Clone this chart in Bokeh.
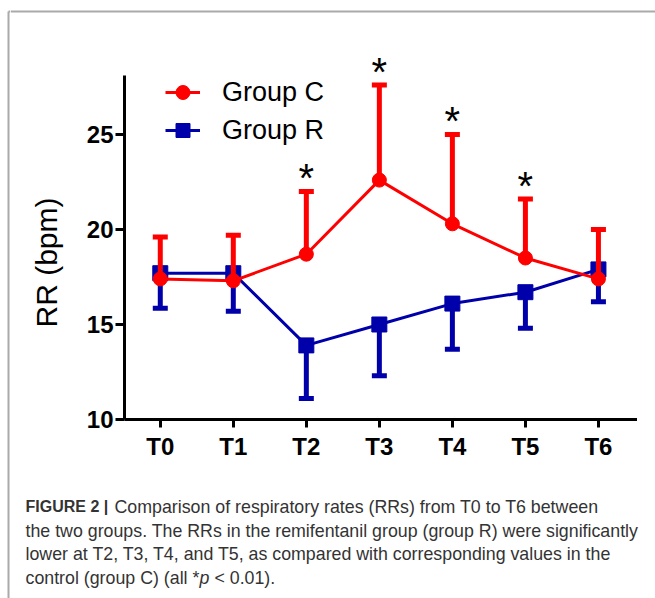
import math
from bokeh.plotting import figure
from bokeh.layouts import column, row
from bokeh.models import (Range1d, FixedTicker, ColumnDataSource, Legend, LegendItem, Title)
from bokeh.core.properties import value
from bokeh.embed import file_html
from bokeh.resources import INLINE

# ---- data ----
times = ["T0", "T1", "T2", "T3", "T4", "T5", "T6"]
group_c_mean = [17.4, 17.3, 18.7, 22.6, 20.3, 18.5, 17.4]
group_c_upper = [19.6, 19.7, 22.0, 27.6, 25.0, 21.6, 20.0]
group_r_mean = [17.7, 17.7, 13.9, 15.0, 16.1, 16.7, 17.9]
group_r_lower = [15.85, 15.7, 11.1, 12.3, 13.7, 14.8, 16.2]
significance = ["", "", "*", "*", "*", "*", ""]
y_ticks = [10, 15, 20, 25]
caption_lead = "FIGURE 2 |"
caption_lines = [
    "Comparison of respiratory rates (RRs) from T0 to T6 between",
    "the two groups. The RRs in the remifentanil group (group R) were significantly",
    "lower at T2, T3, T4, and T5, as compared with corresponding values in the",
    "control (group C) (all *",
]
caption_p = "p"
caption_tail = "< 0.01)."

RED = "#ff0000"
BLUE = "#0000aa"
FONT = "Liberation Sans"
FRAME_GRAY = "#aaaaaa"


def blank(w, h, x0=0, y0=0, fill="white"):
    f = figure(width=w, height=h, output_backend="svg", toolbar_location=None,
               x_range=Range1d(x0, x0 + w), y_range=Range1d(y0 + h, y0),
               x_axis_type=None, y_axis_type=None, min_border=0)
    f.min_border_left = f.min_border_right = f.min_border_top = f.min_border_bottom = 0
    f.outline_line_color = None
    f.grid.visible = False
    f.background_fill_color = fill
    f.border_fill_color = fill
    return f


# ---- decorative strips carrying the article frame lines (page coordinates) ----
left = blank(10, 598)
left.segment(x0=[8, 8], y0=[11, 11], x1=[8, 10], y1=[598, 11], line_color=FRAME_GRAY, line_width=2)
top = blank(645, 40, x0=10)
top.segment(x0=[10], y0=[11], x1=[655], y1=[11], line_color=FRAME_GRAY, line_width=2)
right = blank(18, 422)

# ---- main chart ----
idx = list(range(len(times)))
src_c = ColumnDataSource(dict(x=idx, mean=group_c_mean, upper=group_c_upper, sig=significance))
src_r = ColumnDataSource(dict(x=idx, mean=group_r_mean, lower=group_r_lower))

p = figure(width=627, height=422, output_backend="svg", toolbar_location=None,
           x_range=Range1d(-0.49, 6.535), y_range=Range1d(10, 29.947),
           min_border_left=112, min_border_right=0, min_border_top=0, min_border_bottom=43)
p.outline_line_color = None
p.xgrid.visible = False
p.ygrid.visible = False
p.background_fill_color = "white"
p.border_fill_color = "white"

# group R (blue)
p.segment(x0="x", y0="mean", x1="x", y1="lower", source=src_r, line_color=BLUE, line_width=5)
p.scatter(x="x", y="lower", source=src_r, marker="dash", size=15, line_color=BLUE, line_width=5)
r_line = p.line(x="x", y="mean", source=src_r, line_color=BLUE, line_width=3)
r_pts = p.scatter(x="x", y="mean", source=src_r, marker="square", size=15,
                  fill_color=BLUE, line_color=BLUE)

# group C (red)
p.segment(x0="x", y0="mean", x1="x", y1="upper", source=src_c, line_color=RED, line_width=5)
p.scatter(x="x", y="upper", source=src_c, marker="dash", size=15, line_color=RED, line_width=5)
c_line = p.line(x="x", y="mean", source=src_c, line_color=RED, line_width=3)
c_pts = p.scatter(x="x", y="mean", source=src_c, marker="circle", size=14,
                  fill_color=RED, line_color=RED)

# significance stars
p.text(x="x", y="upper", text="sig", source=src_c, text_align="center",
       text_baseline="alphabetic", y_offset=-13, text_font=value(FONT),
       text_font_size="40px", text_color="black")

# axes
for ax in (p.xaxis[0], p.yaxis[0]):
    ax.axis_line_width = 3
    ax.axis_line_color = "black"
    ax.major_tick_line_width = 3
    ax.major_tick_line_color = "black"
    ax.major_tick_in = 0
    ax.minor_tick_line_color = None
    ax.major_label_text_font = FONT
    ax.major_label_text_font_style = "bold"
    ax.major_label_text_font_size = "24px"
    ax.major_label_text_color = "black"

p.xaxis.ticker = FixedTicker(ticks=idx)
p.xaxis.major_label_overrides = {i: t for i, t in enumerate(times)}
p.xaxis.major_tick_out = 8
p.xaxis.major_label_standoff = 5

p.yaxis.ticker = FixedTicker(ticks=y_ticks)
p.yaxis.bounds = (10, 28.1)
p.yaxis.major_tick_out = 9
p.yaxis.major_label_standoff = 2

# y axis title
p.add_layout(Title(text="RR (bpm)", align="left", offset=92, standoff=38, vertical_align="top",
                   text_font=FONT, text_font_style="normal", text_font_size="30px",
                   text_color="black"), "left")

# legend
legend = Legend(items=[LegendItem(label="Group C", renderers=[c_line, c_pts]),
                       LegendItem(label="Group R", renderers=[r_line, r_pts])],
                location=(41, 270), glyph_width=35, glyph_height=38, spacing=0,
                padding=0, margin=0, label_standoff=22, border_line_color=None,
                background_fill_alpha=0, label_text_font=FONT,
                label_text_font_size="27px", label_text_color="black",
                label_text_baseline="middle")
p.add_layout(legend, "center")

# ---- caption ----
cap = blank(645, 136, x0=10, y0=462)
cap.segment(x0=[8], y0=[462], x1=[8], y1=[598], line_color=FRAME_GRAY, line_width=2)
CAP = "#333333"
SZ = 17.8
cap_kw = dict(text_color=CAP, text_baseline="middle", text_align="left", text_font=value(FONT))
cap.text(x=[25], y=[506], text=[caption_lead], text_font_style="bold",
         text_font_size="16px", **cap_kw)
cap.text(x=[114, 25, 25, 25], y=[506, 530, 553, 577], text=caption_lines,
         text_font_size=f"{SZ}px", **cap_kw)
cap.text(x=[25 + 9.78 * SZ], y=[577], text=[caption_p], text_font_style="italic",
         text_font_size=f"{SZ}px", **cap_kw)
cap.text(x=[25 + 10.614 * SZ], y=[577], text=[caption_tail], text_font_size=f"{SZ}px", **cap_kw)

layout = row(left, column(top, row(p, right), cap))
open("out.html", "w").write(file_html(layout, INLINE))
